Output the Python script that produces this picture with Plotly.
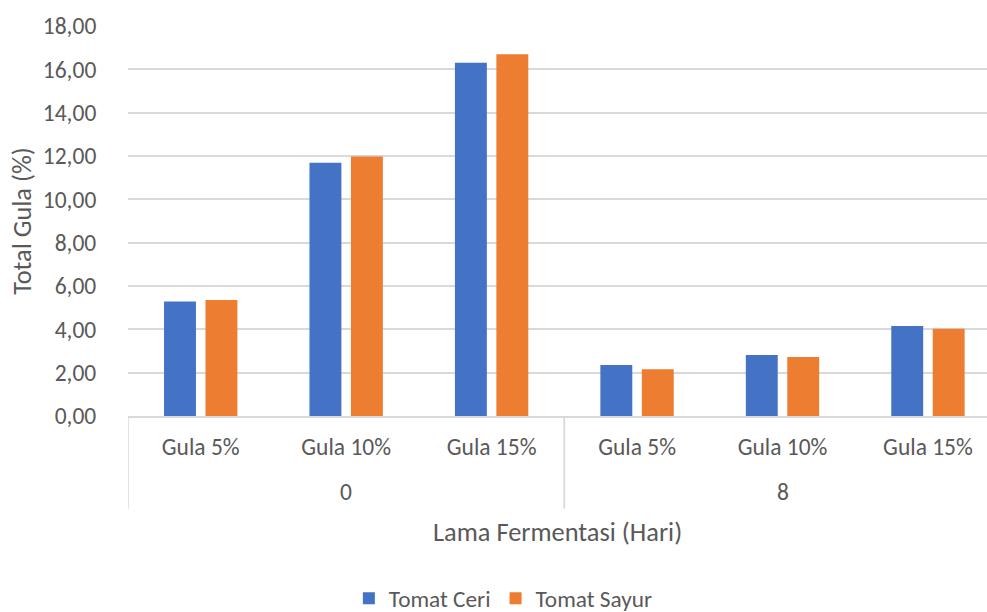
import plotly.graph_objects as go

# Fermentation day (outer category) and sugar level (inner category)
days = ["0", "0", "0", "8", "8", "8"]
sugar = ["Gula 5%", "Gula 10%", "Gula 15%", "Gula 5%", "Gula 10%", "Gula 15%"]

# Total sugar (%) per tomato variety
tomat_ceri = [5.28, 11.69, 16.30, 2.35, 2.81, 4.15]
tomat_sayur = [5.35, 11.98, 16.70, 2.16, 2.72, 4.03]

y_ticks = [0, 2, 4, 6, 8, 10, 12, 14, 16, 18]
y_tick_text = [f"{v:.2f}".replace(".", ",") for v in y_ticks]

FONT = "Carlito, Calibri, Lato, sans-serif"
TEXT = "#595959"
GRID = "#d9d9d9"

pos = list(range(len(sugar)))

fig = go.Figure()
fig.add_trace(go.Bar(name="Tomat Ceri", x=pos, y=tomat_ceri,
                     marker=dict(color="#4472c4", line=dict(width=0))))
fig.add_trace(go.Bar(name="Tomat Sayur", x=pos, y=tomat_sayur,
                     marker=dict(color="#ed7d31", line=dict(width=0))))

# Outer category labels and divider lines of the two-level x axis
groups = []
for i, d in enumerate(days):
    if not groups or groups[-1][0] != d:
        groups.append([d, i, i])
    else:
        groups[-1][2] = i

DIV_BOTTOM = -0.2375
for d, first, last in groups:
    fig.add_annotation(x=(first + last) / 2, y=-0.195, xref="x", yref="paper",
                       text=d, showarrow=False, yanchor="middle",
                       font=dict(size=23.5, color=TEXT, family=FONT))
    for edge in (first - 0.5, last + 0.5):
        fig.add_shape(type="line", xref="x", yref="paper",
                      x0=edge, x1=edge, y0=0, y1=DIV_BOTTOM,
                      line=dict(color=GRID, width=1.5))

# x-axis title
fig.add_annotation(x=0.5, y=-0.297, xref="paper", yref="paper",
                   xanchor="center", yanchor="middle", showarrow=False,
                   text="Lama Fermentasi (Hari)",
                   font=dict(size=26.4, color=TEXT, family=FONT))

fig.update_layout(
    width=987, height=612,
    margin=dict(l=128, r=0, t=26, b=196),
    paper_bgcolor="white", plot_bgcolor="white",
    barmode="group", bargap=0.43, bargroupgap=0.23,
    font=dict(family=FONT, color=TEXT, size=23.5),
    showlegend=True,
    legend=dict(orientation="h", xref="container", yref="container",
                x=0.51, xanchor="center", y=0.022, yanchor="middle",
                font=dict(size=23.3, color=TEXT), itemwidth=30,
                traceorder="normal"),
)

fig.update_xaxes(
    range=[-0.5, 5.406],
    tickvals=pos, ticktext=sugar,
    showline=True, linecolor=GRID, linewidth=1.5,
    showgrid=False, zeroline=False, ticks="",
    ticklabelstandoff=9,
    tickfont=dict(size=23.5, color=TEXT),
)

fig.update_yaxes(
    range=[0, 18],
    tickvals=y_ticks, ticktext=y_tick_text,
    showgrid=True, gridcolor=GRID, gridwidth=1.5,
    zeroline=False, showline=False,
    ticks="outside", ticklen=26, tickcolor="rgba(0,0,0,0)",
    tickfont=dict(size=23.5, color=TEXT),
    title=dict(text="Total Gula (%)", font=dict(size=26.4, color=TEXT), standoff=3),
)

fig.write_html("out.html")
